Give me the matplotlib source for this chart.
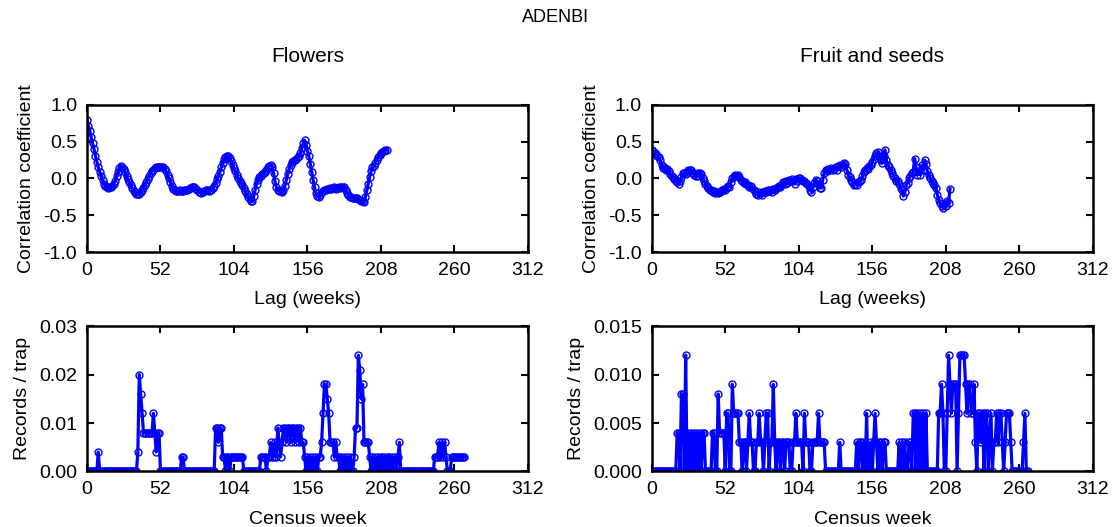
import numpy as np
import matplotlib
matplotlib.use("Agg")
import matplotlib.pyplot as plt
from matplotlib.ticker import FormatStrFormatter

plt.rcParams['font.family'] = ['Liberation Sans', 'DejaVu Sans']

# ---- autocorrelation, flowers (lag 0..212 weeks)
acf_flowers = [
    0.80, 0.72, 0.64, 0.56, 0.48, 0.40, 0.31, 0.23, 0.15, 0.09,
    0.03, -0.02, -0.07, -0.10, -0.12, -0.13, -0.12, -0.12, -0.10, -0.07,
    -0.03, 0.03, 0.09, 0.14, 0.17, 0.16, 0.13, 0.09, 0.04, -0.01,
    -0.05, -0.09, -0.13, -0.17, -0.19, -0.21, -0.21, -0.21, -0.19, -0.16,
    -0.13, -0.09, -0.05, -0.01, 0.03, 0.07, 0.10, 0.12, 0.14, 0.15,
    0.16, 0.16, 0.16, 0.16, 0.15, 0.13, 0.10, 0.05, 0.00, -0.05,
    -0.10, -0.14, -0.16, -0.17, -0.17, -0.17, -0.16, -0.17, -0.17, -0.16,
    -0.16, -0.15, -0.14, -0.13, -0.12, -0.11, -0.12, -0.14, -0.16, -0.18,
    -0.19, -0.20, -0.18, -0.17, -0.16, -0.16, -0.17, -0.16, -0.15, -0.13,
    -0.10, -0.06, -0.01, 0.04, 0.09, 0.15, 0.21, 0.26, 0.29, 0.30,
    0.31, 0.28, 0.24, 0.19, 0.14, 0.10, 0.05, 0.01, -0.03, -0.06,
    -0.09, -0.13, -0.17, -0.21, -0.25, -0.28, -0.30, -0.31, -0.24, -0.15,
    -0.07, -0.02, 0.02, 0.04, 0.06, 0.07, 0.09, 0.12, 0.15, 0.17,
    0.19, 0.16, 0.07, -0.04, -0.12, -0.16, -0.17, -0.17, -0.18, -0.16,
    -0.10, -0.02, 0.06, 0.13, 0.19, 0.22, 0.24, 0.25, 0.27, 0.29,
    0.30, 0.35, 0.42, 0.48, 0.52, 0.46, 0.38, 0.30, 0.20, 0.09,
    -0.02, -0.12, -0.20, -0.24, -0.25, -0.22, -0.19, -0.17, -0.16, -0.15,
    -0.14, -0.14, -0.13, -0.14, -0.13, -0.12, -0.14, -0.13, -0.12, -0.13,
    -0.12, -0.11, -0.12, -0.16, -0.20, -0.23, -0.25, -0.25, -0.26, -0.26,
    -0.26, -0.27, -0.28, -0.29, -0.30, -0.31, -0.32, -0.25, -0.16, -0.07,
    0.02, 0.10, 0.15, 0.17, 0.21, 0.25, 0.29, 0.32, 0.35, 0.36,
    0.38, 0.39, 0.39,
]

# ---- autocorrelation, fruit and seeds (lag 0..211 weeks)
acf_fruit = [
    0.39, 0.37, 0.35, 0.33, 0.31, 0.29, 0.25, 0.18, 0.14, 0.15,
    0.12, 0.13, 0.10, 0.06, 0.03, 0.02, -0.01, -0.03, -0.05, -0.07,
    -0.04, 0.02, 0.07, 0.08, 0.06, 0.09, 0.12, 0.12, 0.11, 0.08,
    0.05, 0.03, 0.04, 0.07, 0.08, 0.06, 0.01, -0.04, -0.07, -0.10,
    -0.13, -0.16, -0.15, -0.18, -0.17, -0.20, -0.19, -0.20, -0.18, -0.17,
    -0.15, -0.14, -0.16, -0.12, -0.10, -0.11, -0.05, 0.01, 0.04, 0.05,
    0.04, 0.05, 0.02, -0.02, -0.04, -0.06, -0.05, -0.08, -0.09, -0.11,
    -0.10, -0.13, -0.15, -0.17, -0.21, -0.23, -0.19, -0.20, -0.22, -0.18,
    -0.17, -0.19, -0.16, -0.17, -0.15, -0.18, -0.14, -0.16, -0.13, -0.12,
    -0.10, -0.12, -0.07, -0.05, -0.07, -0.03, -0.06, -0.02, -0.04, -0.01,
    -0.04, -0.07, -0.01, -0.03, 0.00, 0.01, -0.02, -0.04, -0.03, -0.06,
    -0.07, -0.10, -0.15, -0.18, -0.12, -0.06, -0.02, -0.03, -0.08, -0.13,
    -0.13, -0.02, 0.08, 0.12, 0.10, 0.13, 0.11, 0.14, 0.12, 0.13,
    0.15, 0.12, 0.17, 0.18, 0.16, 0.19, 0.21, 0.20, 0.12, 0.05,
    0.02, -0.02, -0.05, -0.09, -0.07, -0.09, -0.05, -0.04, -0.02, 0.03,
    0.09, 0.11, 0.14, 0.13, 0.17, 0.19, 0.23, 0.27, 0.30, 0.34,
    0.36, 0.30, 0.25, 0.21, 0.30, 0.39, 0.25, 0.18, 0.15, 0.12,
    0.08, 0.03, 0.00, -0.04, -0.03, -0.08, -0.13, -0.16, -0.24, -0.18,
    -0.09, -0.06, 0.00, 0.04, 0.07, 0.09, 0.27, 0.15, 0.05, 0.10,
    0.05, 0.18, 0.12, 0.25, 0.20, 0.10, 0.05, 0.01, -0.04, -0.06,
    -0.09, -0.13, -0.22, -0.29, -0.33, -0.37, -0.40, -0.35, -0.38, -0.30,
    -0.33, -0.14,
]

# ---- records per trap, flowers (census week 0..267)
rec_flowers = [
    0, 0, 0, 0, 0, 0, 0, 0, 0.004, 0,
    0, 0, 0, 0, 0, 0, 0, 0, 0, 0,
    0, 0, 0, 0, 0, 0, 0, 0, 0, 0,
    0, 0, 0, 0, 0, 0, 0.004, 0.020, 0.016, 0.012,
    0.008, 0.008, 0.008, 0.008, 0.008, 0.008, 0.008, 0.012, 0.008, 0.004,
    0.008, 0.008, 0, 0, 0, 0, 0, 0, 0, 0,
    0, 0, 0, 0, 0, 0, 0, 0.003, 0.003, 0,
    0, 0, 0, 0, 0, 0, 0, 0, 0, 0,
    0, 0, 0, 0, 0, 0, 0, 0, 0, 0,
    0, 0.009, 0.009, 0.006, 0.009, 0.009, 0.003, 0.003, 0, 0.003,
    0.003, 0, 0.003, 0.003, 0.003, 0.003, 0.003, 0.003, 0.003, 0.003,
    0.003, 0, 0, 0, 0, 0, 0, 0, 0, 0,
    0, 0, 0, 0.003, 0.003, 0.003, 0.003, 0, 0.003, 0.003,
    0.006, 0.003, 0.003, 0.006, 0.003, 0.009, 0.006, 0.003, 0.006, 0.009,
    0.009, 0.006, 0.009, 0.009, 0.006, 0.009, 0.009, 0.006, 0.009, 0.009,
    0.006, 0.009, 0.006, 0.006, 0.003, 0, 0.003, 0, 0.003, 0,
    0.003, 0, 0.003, 0, 0.003, 0.003, 0.006, 0.012, 0.018, 0.018,
    0.015, 0.012, 0.006, 0.006, 0.006, 0.003, 0.006, 0.003, 0.003, 0,
    0.003, 0, 0.003, 0, 0.003, 0, 0.003, 0, 0, 0.003,
    0.009, 0.009, 0.024, 0.021, 0.015, 0.018, 0.006, 0.006, 0.006, 0.006,
    0.003, 0, 0.003, 0, 0.003, 0, 0.003, 0, 0.003, 0.003,
    0, 0.003, 0, 0.003, 0.003, 0, 0.003, 0, 0.003, 0,
    0.003, 0.006, 0, 0, 0, 0, 0, 0, 0, 0,
    0, 0, 0, 0, 0, 0, 0, 0, 0, 0,
    0, 0, 0, 0, 0, 0, 0.003, 0.003, 0.003, 0.006,
    0.003, 0.006, 0.003, 0.006, 0.003, 0, 0, 0, 0.003, 0.003,
    0.003, 0.003, 0.003, 0.003, 0.003, 0.003, 0.003, 0.003,
]

# ---- records per trap, fruit and seeds (census week 0..266)
rec_fruit = [
    0, 0, 0, 0, 0, 0, 0, 0, 0, 0,
    0, 0, 0, 0, 0, 0, 0, 0, 0.004, 0.004,
    0, 0.008, 0.008, 0, 0.012, 0, 0.004, 0, 0.004, 0,
    0.004, 0, 0.004, 0, 0.004, 0, 0.004, 0.004, 0, 0,
    0, 0, 0, 0.004, 0.004, 0, 0, 0.008, 0.004, 0.004,
    0.004, 0.004, 0, 0.006, 0.006, 0, 0, 0.009, 0.006, 0.006,
    0.006, 0.006, 0.003, 0.003, 0, 0.003, 0.003, 0, 0.003, 0.006,
    0.003, 0.003, 0, 0, 0.003, 0.003, 0.006, 0.003, 0.003, 0,
    0.003, 0.006, 0.006, 0, 0.003, 0.003, 0.009, 0.003, 0, 0.003,
    0.003, 0, 0.003, 0.003, 0, 0.003, 0.003, 0.003, 0, 0,
    0.003, 0.003, 0.006, 0.003, 0.003, 0.003, 0.003, 0, 0.006, 0.003,
    0.003, 0.003, 0, 0, 0.003, 0.003, 0.003, 0.003, 0.006, 0.003,
    0.003, 0.003, 0.003, 0, 0, 0, 0, 0, 0, 0,
    0, 0, 0, 0.003, 0, 0, 0, 0, 0, 0,
    0, 0, 0, 0, 0, 0.003, 0, 0.003, 0.003, 0,
    0.003, 0, 0.006, 0, 0, 0.003, 0, 0.003, 0.006, 0.003,
    0, 0.003, 0.003, 0, 0.003, 0.003, 0, 0, 0, 0,
    0, 0, 0, 0, 0, 0.003, 0, 0.003, 0, 0.003,
    0, 0, 0.003, 0.003, 0, 0.006, 0.006, 0, 0.006, 0,
    0.006, 0, 0.006, 0, 0.006, 0, 0, 0, 0, 0,
    0, 0, 0, 0.006, 0.006, 0.009, 0.006, 0, 0, 0.006,
    0.012, 0.009, 0.006, 0.009, 0.009, 0.009, 0, 0.006, 0.012, 0.012,
    0.012, 0.012, 0.009, 0.006, 0.009, 0.009, 0.006, 0.006, 0.009, 0.003,
    0, 0.006, 0.006, 0.003, 0.006, 0, 0.006, 0.006, 0, 0.003,
    0.006, 0, 0.003, 0.003, 0.006, 0.003, 0.006, 0.006, 0.003, 0,
    0.003, 0.006, 0.006, 0.006, 0.003, 0, 0, 0, 0, 0,
    0, 0, 0, 0.003, 0.006, 0, 0,
]

xticks = [0, 52, 104, 156, 208, 260, 312]
BLUE = '#0000ff'
FS = 14

fig = plt.figure(figsize=(11.12, 5.27), dpi=100)
W = 0.3966
ax_tl = fig.add_axes([0.0782, 0.5218, W, 0.279])
ax_tr = fig.add_axes([0.5861, 0.5218, W, 0.279])
ax_bl = fig.add_axes([0.0782, 0.1055, W, 0.2755])
ax_br = fig.add_axes([0.5861, 0.1055, W, 0.2755])


def style(ax):
    for s in ax.spines.values():
        s.set_linewidth(1.8)
    ax.tick_params(direction='in', top=True, right=True, length=5, width=1.5,
                   labelsize=FS, pad=7)
    ax.set_xlim(0, 312)
    ax.set_xticks(xticks)


def draw(ax, y):
    x = np.arange(len(y))
    ax.plot(x, y, '-o', color=BLUE, lw=2.3, ms=5, mfc='none', mec=BLUE, mew=1.0)


for ax, y in [(ax_tl, acf_flowers), (ax_tr, acf_fruit)]:
    draw(ax, y)
    style(ax)
    ax.set_ylim(-1, 1)
    ax.set_yticks([-1, -0.5, 0, 0.5, 1])
    ax.yaxis.set_major_formatter(FormatStrFormatter('%.1f'))
    ax.set_xlabel('Lag (weeks)', fontsize=FS, labelpad=9)
    ax.set_ylabel('Correlation coefficient', fontsize=FS, labelpad=6)

draw(ax_bl, rec_flowers)
style(ax_bl)
ax_bl.set_ylim(0, 0.03)
ax_bl.set_yticks([0, 0.01, 0.02, 0.03])
ax_bl.yaxis.set_major_formatter(FormatStrFormatter('%.2f'))

draw(ax_br, rec_fruit)
style(ax_br)
ax_br.set_ylim(0, 0.015)
ax_br.set_yticks([0, 0.005, 0.010, 0.015])
ax_br.yaxis.set_major_formatter(FormatStrFormatter('%.3f'))

for ax in (ax_bl, ax_br):
    ax.set_xlabel('Census week', fontsize=FS, labelpad=9)
    ax.set_ylabel('Records / trap', fontsize=FS, labelpad=6)

fig.text(0.5, 0.966, 'ADENBI', ha='center', va='center', fontsize=13)
fig.text(0.0782 + W / 2, 0.892, 'Flowers', ha='center', va='center', fontsize=FS + 1)
fig.text(0.5861 + W / 2, 0.892, 'Fruit and seeds', ha='center', va='center', fontsize=FS + 1)

fig.savefig('out.png', dpi=100)
